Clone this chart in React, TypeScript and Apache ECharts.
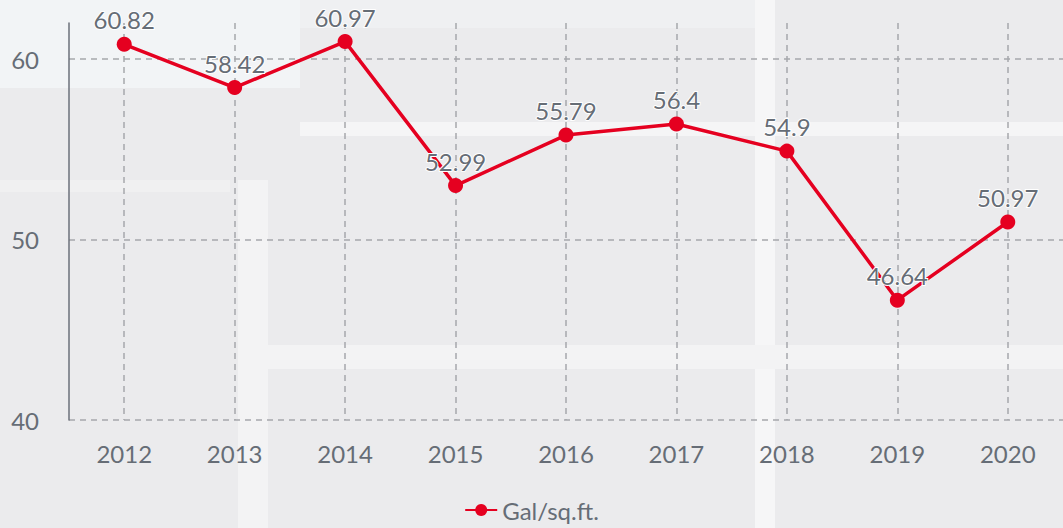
import React, { useEffect, useRef } from "react";
import * as echarts from "echarts";

const years = ["2012", "2013", "2014", "2015", "2016", "2017", "2018", "2019", "2020"];
const galPerSqFt = [60.82, 58.42, 60.97, 52.99, 55.79, 56.4, 54.9, 46.64, 50.97];
const seriesName = "Gal/sq.ft.";

const RED = "#e50020";
const TEXT = "#666d76";

export default function App() {
  const ref = useRef<HTMLDivElement>(null);
  useEffect(() => {
    document.body.style.margin = "0";
    const chart = echarts.init(ref.current!, null, { renderer: "svg" });
    chart.setOption({
      animation: false,
      backgroundColor: "#ebebed",
      textStyle: { fontFamily: "Lato" },
      graphic: [
        { type: "rect", silent: true, z: -10, shape: { x: 0, y: 0, width: 300, height: 88 }, style: { fill: "#f2f4f6" } },
        { type: "rect", silent: true, z: -10, shape: { x: 300, y: 0, width: 460, height: 28 }, style: { fill: "#eff0f2" } },
        { type: "rect", silent: true, z: -10, shape: { x: 238, y: 180, width: 30, height: 348 }, style: { fill: "#f3f3f4" } },
        { type: "rect", silent: true, z: -10, shape: { x: 300, y: 122, width: 763, height: 14 }, style: { fill: "#f5f5f6" } },
        { type: "rect", silent: true, z: -10, shape: { x: 755, y: 0, width: 20, height: 528 }, style: { fill: "#f6f6f7" } },
        { type: "rect", silent: true, z: -10, shape: { x: 260, y: 345, width: 803, height: 24 }, style: { fill: "#f3f3f4" } },
        { type: "rect", silent: true, z: -10, shape: { x: 0, y: 180, width: 230, height: 12 }, style: { fill: "#f0f0f1" } },
      ],
      grid: { left: 69, right: 0, top: 23, bottom: 108 },
      legend: {
        bottom: 1,
        left: "center",
        data: [seriesName],
        itemWidth: 32,
        itemHeight: 15,
        itemGap: 8,
        textStyle: { color: TEXT, fontSize: 24, fontFamily: "Lato" },
      },
      xAxis: {
        type: "category",
        data: years,
        boundaryGap: true,
        axisLine: { show: false },
        axisTick: { show: false },
        axisLabel: { color: TEXT, fontSize: 24, margin: 21, fontFamily: "Lato" },
        splitLine: {
          show: true,
          alignWithLabel: true,
          lineStyle: { color: "#a6a8ac", type: [6, 5], width: 1.5 },
        },
      },
      yAxis: {
        type: "value",
        min: 40,
        max: 62,
        interval: 10,
        axisLine: { show: true, lineStyle: { color: "#6b717a", width: 1.5 } },
        axisTick: { show: false },
        axisLabel: { color: TEXT, fontSize: 24, margin: 30, showMaxLabel: false, fontFamily: "Lato" },
        splitLine: {
          show: true,
          showMaxLine: false,
          lineStyle: { color: "#a6a8ac", type: [6, 5], width: 1.5 },
        },
      },
      series: [
        {
          name: seriesName,
          type: "line",
          data: galPerSqFt,
          symbol: "circle",
          symbolSize: 15,
          itemStyle: { color: RED },
          lineStyle: { color: RED, width: 3.5 },
          label: {
            show: true,
            position: "top",
            distance: 5,
            color: TEXT,
            fontSize: 24,
            fontFamily: "Lato",
            textBorderColor: "#ffffff",
            textBorderWidth: 2,
          },
        },
      ],
    });
    return () => chart.dispose();
  }, []);
  return <div ref={ref} style={{ position: "absolute", left: 0, top: 0, width: 1063, height: 528 }} />;
}
